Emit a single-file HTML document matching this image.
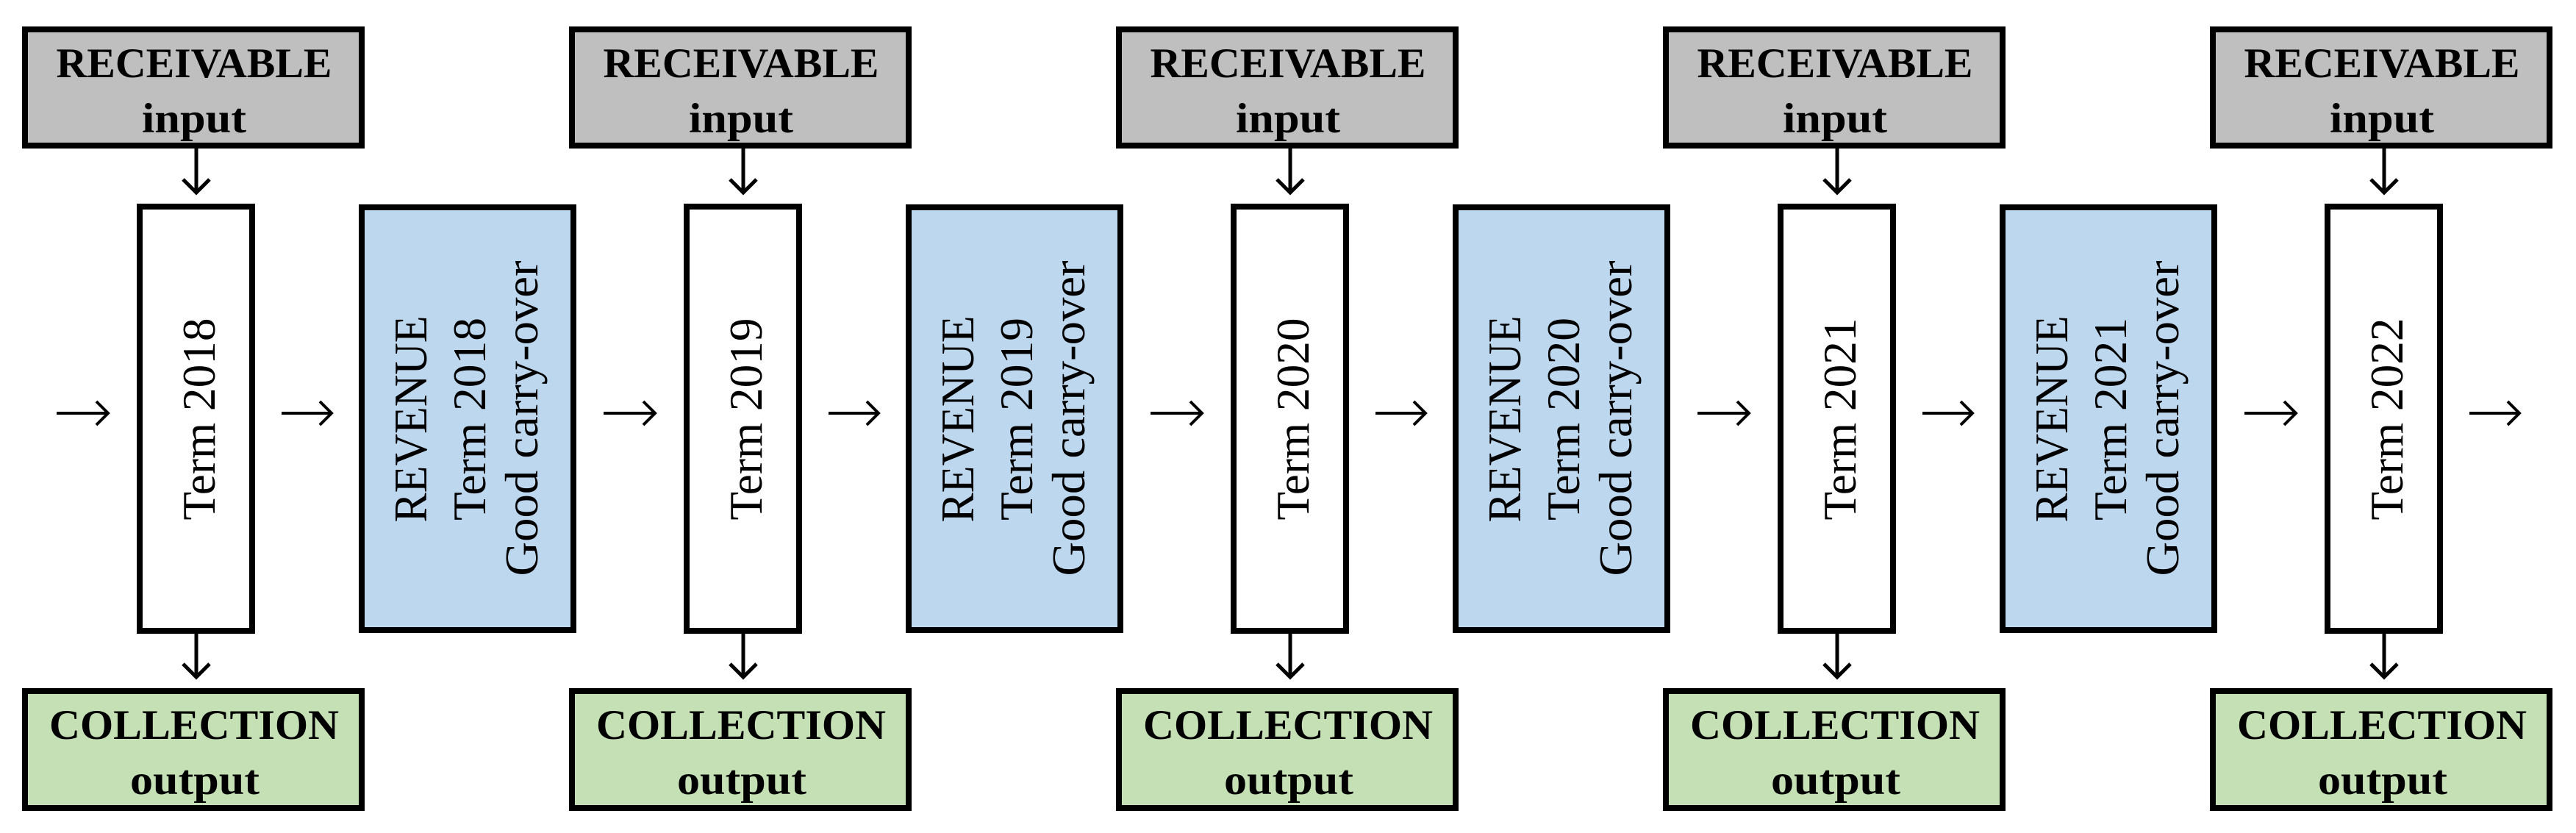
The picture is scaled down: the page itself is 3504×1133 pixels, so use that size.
<!DOCTYPE html>
<html><head><meta charset="utf-8"><style>html,body{margin:0;padding:0;background:#fff}svg{display:block}</style></head><body>
<svg xmlns="http://www.w3.org/2000/svg" width="3504" height="1133" viewBox="0 0 3504 1133">
<defs>
<g id="unit">
  <rect x="34" y="40" width="458" height="158" fill="#bfbfbf" stroke="#000" stroke-width="8"/>
  <text x="264" y="105" font-family="Liberation Serif" font-weight="bold" font-size="57" text-anchor="middle" textLength="375" lengthAdjust="spacingAndGlyphs">RECEIVABLE</text>
  <text x="264" y="180" font-family="Liberation Serif" font-weight="bold" font-size="57" text-anchor="middle" textLength="142" lengthAdjust="spacingAndGlyphs">input</text>
  <line x1="267" y1="202" x2="267" y2="262" stroke="#000" stroke-width="5"/>
  <polyline points="249,244 267,262 285,244" fill="none" stroke="#000" stroke-width="5"/>
  <rect x="190" y="281" width="153" height="577" fill="#fff" stroke="#000" stroke-width="8"/>
  <line x1="267" y1="862" x2="267" y2="921" stroke="#000" stroke-width="5"/>
  <polyline points="249,903 267,921 285,903" fill="none" stroke="#000" stroke-width="5"/>
  <rect x="34" y="940" width="458" height="159" fill="#c5e0b4" stroke="#000" stroke-width="8"/>
  <text x="264" y="1005" font-family="Liberation Serif" font-weight="bold" font-size="57" text-anchor="middle" textLength="394" lengthAdjust="spacingAndGlyphs">COLLECTION</text>
  <text x="265" y="1080" font-family="Liberation Serif" font-weight="bold" font-size="57" text-anchor="middle" textLength="176" lengthAdjust="spacingAndGlyphs">output</text>
  <line x1="77" y1="562" x2="147" y2="562" stroke="#000" stroke-width="4"/>
  <polyline points="131,546 147,562 131,578" fill="none" stroke="#000" stroke-width="4"/>
</g>
<g id="arr2">
  <line x1="383" y1="562" x2="451" y2="562" stroke="#000" stroke-width="4"/>
  <polyline points="435,546 451,562 435,578" fill="none" stroke="#000" stroke-width="4"/>
  <rect x="492" y="282" width="288" height="575" fill="#bdd7ee" stroke="#000" stroke-width="8"/>
</g>
</defs>
<g font-family="Liberation Serif" font-size="63" fill="#000">
<use href="#unit"/>
<use href="#unit" transform="translate(744,0)"/>
<use href="#unit" transform="translate(1488,0)"/>
<use href="#unit" transform="translate(2232,0)"/>
<use href="#unit" transform="translate(2976,0)"/>
<use href="#arr2"/>
<use href="#arr2" transform="translate(744,0)"/>
<use href="#arr2" transform="translate(1488,0)"/>
<use href="#arr2" transform="translate(2232,0)"/>
<line x1="3359" y1="562" x2="3427" y2="562" stroke="#000" stroke-width="4"/>
<polyline points="3411,546 3427,562 3411,578" fill="none" stroke="#000" stroke-width="4"/>

<text transform="translate(292,570) rotate(-90)" text-anchor="middle" textLength="275" lengthAdjust="spacingAndGlyphs">Term 2018</text>
<text transform="translate(1036,570) rotate(-90)" text-anchor="middle" textLength="275" lengthAdjust="spacingAndGlyphs">Term 2019</text>
<text transform="translate(1780,570) rotate(-90)" text-anchor="middle" textLength="275" lengthAdjust="spacingAndGlyphs">Term 2020</text>
<text transform="translate(2524,570) rotate(-90)" text-anchor="middle" textLength="275" lengthAdjust="spacingAndGlyphs">Term 2021</text>
<text transform="translate(3268,570) rotate(-90)" text-anchor="middle" textLength="275" lengthAdjust="spacingAndGlyphs">Term 2022</text>

<text transform="translate(580,570) rotate(-90)" text-anchor="middle" textLength="281" lengthAdjust="spacingAndGlyphs">REVENUE</text>
<text transform="translate(660,570) rotate(-90)" text-anchor="middle" textLength="276" lengthAdjust="spacingAndGlyphs">Term 2018</text>
<text transform="translate(731,569) rotate(-90)" text-anchor="middle" textLength="429" lengthAdjust="spacingAndGlyphs">Good carry-over</text>

<text transform="translate(1324,570) rotate(-90)" text-anchor="middle" textLength="281" lengthAdjust="spacingAndGlyphs">REVENUE</text>
<text transform="translate(1404,570) rotate(-90)" text-anchor="middle" textLength="276" lengthAdjust="spacingAndGlyphs">Term 2019</text>
<text transform="translate(1475,569) rotate(-90)" text-anchor="middle" textLength="429" lengthAdjust="spacingAndGlyphs">Good carry-over</text>

<text transform="translate(2068,570) rotate(-90)" text-anchor="middle" textLength="281" lengthAdjust="spacingAndGlyphs">REVENUE</text>
<text transform="translate(2148,570) rotate(-90)" text-anchor="middle" textLength="276" lengthAdjust="spacingAndGlyphs">Term 2020</text>
<text transform="translate(2219,569) rotate(-90)" text-anchor="middle" textLength="429" lengthAdjust="spacingAndGlyphs">Good carry-over</text>

<text transform="translate(2812,570) rotate(-90)" text-anchor="middle" textLength="281" lengthAdjust="spacingAndGlyphs">REVENUE</text>
<text transform="translate(2892,570) rotate(-90)" text-anchor="middle" textLength="276" lengthAdjust="spacingAndGlyphs">Term 2021</text>
<text transform="translate(2963,569) rotate(-90)" text-anchor="middle" textLength="429" lengthAdjust="spacingAndGlyphs">Good carry-over</text>
</g>
</svg>
</body></html>
